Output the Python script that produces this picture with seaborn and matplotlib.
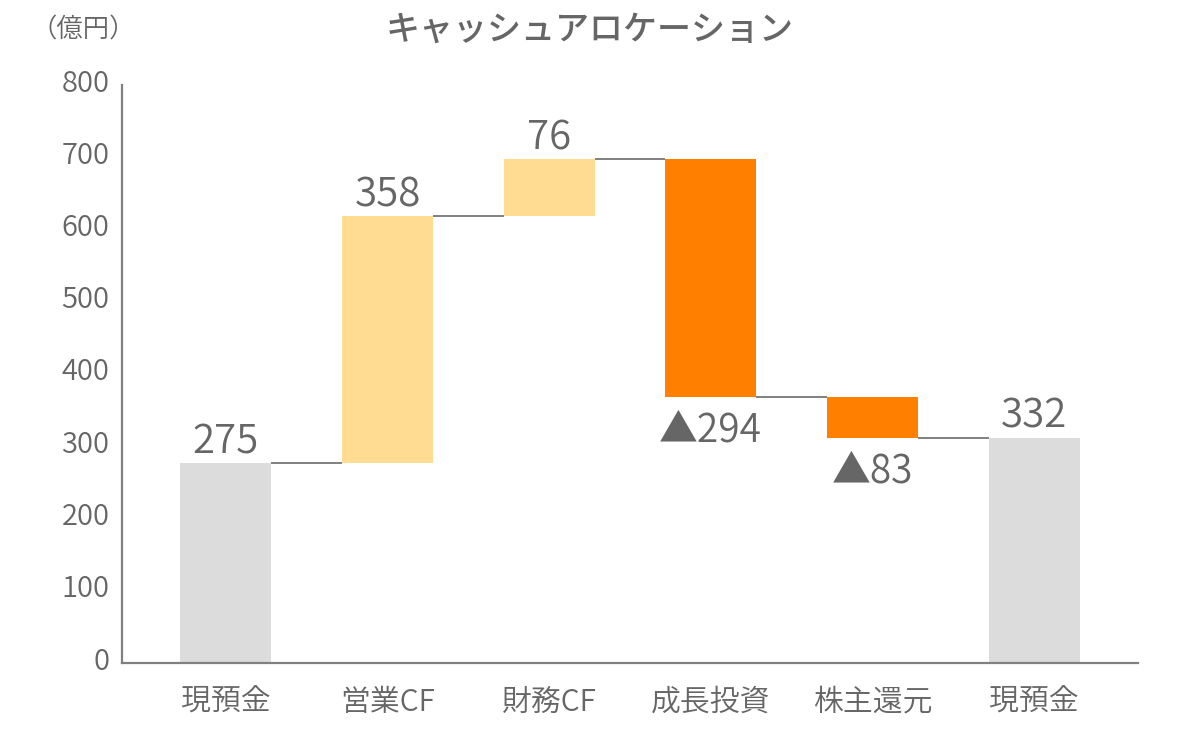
import matplotlib
matplotlib.use("Agg")
import matplotlib.pyplot as plt
import matplotlib.transforms as mtransforms
import seaborn as sns
import numpy as np
import pandas as pd

# ---- data ----
categories = ['現預金', '営業CF', '財務CF', '成長投資', '株主還元', '現預金']
values = [275, 358, 76, -294, -83, 332]
value_labels = ['275', '358', '76', '▲294', '▲83', '332']
# bar extents as drawn in the reference
bar_bottom = [0, 277, 618, 368, 312, 0]
bar_top = [277, 618, 697, 697, 368, 312]
bar_colors = ['#DCDCDC', '#FFDC91', '#FFDC91', '#FF7F00', '#FF7F00', '#DCDCDC']
yticks = [0, 100, 200, 300, 400, 500, 600, 700, 800]

sns.set_style("white")
plt.rcParams['font.family'] = ['Noto Sans CJK JP', 'DejaVu Sans']

TXT = '#666666'
LINE = '#808080'
W = 350

fig = plt.figure(figsize=(11.8, 7.32), dpi=100)
ax = fig.add_axes([122 / 1180, 1 - 663 / 732, (1138 - 122) / 1180, (663 - 85) / 732])

pos = list(range(len(categories)))
df = pd.DataFrame({'pos': pos,
                   'height': np.array(bar_top) - np.array(bar_bottom)})
width = 0.563
sns.barplot(data=df, x='pos', y='height', bottom=bar_bottom, width=width,
            color='#DCDCDC', ax=ax, linewidth=0, errorbar=None)
for patch, c in zip(ax.patches, bar_colors):
    patch.set_facecolor(c)
    patch.set_edgecolor(c)

# connector lines
for i in range(len(categories) - 1):
    level = bar_top[i] if values[i] >= 0 else bar_bottom[i]
    ax.plot([i + width / 2, i + 1 - width / 2], [level, level],
            color=LINE, lw=1.4, zorder=1, solid_capstyle='butt')

# value labels
for i, (v, lab) in enumerate(zip(values, value_labels)):
    if v >= 0:
        ax.annotate(lab, (i, bar_top[i]), xytext=(0, 7), textcoords='offset points',
                    ha='center', va='baseline', fontsize=29, color=TXT, fontweight=W)
    else:
        ax.annotate(lab, (i, bar_bottom[i]), xytext=(0, -32), textcoords='offset points',
                    ha='center', va='baseline', fontsize=28, color=TXT, fontweight=W)

ax.set_xlim(-0.643, len(categories) - 1 + 0.643)
ax.set_ylim(0, 800)
ax.set_yticks(yticks)
ax.set_yticklabels([str(t) for t in yticks], fontsize=21, color=TXT, fontweight=W)
ax.set_xticks(pos)
ax.set_xticklabels(categories, fontsize=21.5, color=TXT, fontweight=W)
ax.tick_params(axis='y', length=0, pad=9)
ax.tick_params(axis='x', length=0, pad=17)
ax.set_xlabel('')
ax.set_ylabel('')

offset = mtransforms.ScaledTranslation(0, 5 / 100, fig.dpi_scale_trans)
for lbl in ax.get_yticklabels():
    lbl.set_transform(lbl.get_transform() + offset)

for s in ['top', 'right']:
    ax.spines[s].set_visible(False)
for s in ['left', 'bottom']:
    ax.spines[s].set_color(LINE)
    ax.spines[s].set_linewidth(1.6)

fig.text(590 / 1180, 1 - 30 / 732, 'キャッシュアロケーション', ha='center', va='center',
         fontsize=24.5, fontweight='medium', color=TXT)
fig.text(83 / 1180, 1 - 30 / 732, '（億円）', ha='center', va='center',
         fontsize=19, color=TXT, fontweight=W)

fig.savefig('out.png', dpi=100)
